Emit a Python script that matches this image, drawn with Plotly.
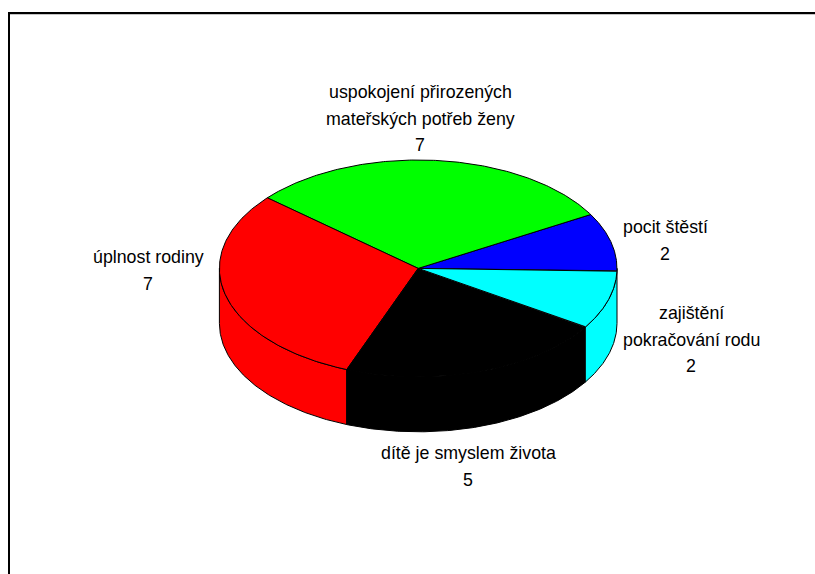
import numpy as np
import plotly.graph_objects as go

# Data, in drawing order (counter-clockwise from the east)
categories = ["pocit štěstí", "uspokojení přirozených mateřských potřeb ženy",
              "úplnost rodiny", "dítě je smyslem života", "zajištění pokračování rodu"]
values = [2, 7, 7, 5, 2]
label_lines = [["pocit štěstí"],
               ["uspokojení přirozených", "mateřských potřeb ženy"],
               ["úplnost rodiny"],
               ["dítě je smyslem života"],
               ["zajištění", "pokračování rodu"]]

# Styles / layout (pixel space of the drawing)
colors = ["#0000ff", "#00ff00", "#ff0000", "#000000", "#00ffff"]
CX, CY, RX, RY, DEPTH = 418.2, 268.4, 198.8, 108.4, 55.0
START = -1.5
label_pos = [(665, 227), (420, 92), (148, 257), (468, 453), (691, 313)]
LINE_H = 26.5
FONT = dict(family="Liberation Sans, Arial, sans-serif", size=17.8, color="#000000")

vals = np.array(values, dtype=float)
edges = START + np.concatenate([[0], np.cumsum(vals)]) / vals.sum() * 360


def ell(deg, dy=0.0):
    r = np.radians(deg)
    return CX + RX * np.cos(r), CY - RY * np.sin(r) + dy


fig = go.Figure()


def poly(x, y, color):
    fig.add_trace(go.Scatter(x=np.append(x, x[0]), y=np.append(y, y[0]), mode="lines",
                             fill="toself", fillcolor=color,
                             line=dict(color="#000000", width=1),
                             hoverinfo="skip", showlegend=False))


# Side walls: the part of each slice on the front half of the ellipse
for i in range(len(vals)):
    a0, a1 = max(edges[i], 180), min(edges[i + 1], 360)
    if i == len(vals) - 1:
        a1 = 360
    if a1 <= a0:
        continue
    t = np.linspace(a0, a1, 120)
    xt, yt = ell(t)
    xb, yb = ell(t[::-1], DEPTH)
    poly(np.concatenate([xt, xb]), np.concatenate([yt, yb]), colors[i])

# Top faces
for i in range(len(vals)):
    t = np.linspace(edges[i], edges[i + 1], 160)
    xt, yt = ell(t)
    poly(np.concatenate([[CX], xt]), np.concatenate([[CY], yt]), colors[i])

# Labels: category lines, then the value
annotations = []
for lines, val, (lx, ly) in zip(label_lines, values, label_pos):
    for k, txt in enumerate(list(lines) + [str(val)]):
        annotations.append(dict(x=lx, y=ly + k * LINE_H, xref="x", yref="y", text=txt,
                                showarrow=False, font=FONT, xanchor="center", yanchor="middle"))

# Chart frame, cut off by the right and bottom picture edges
shapes = [
    dict(type="line", xref="x", yref="y", x0=9, x1=815, y0=14.5, y1=14.5, line=dict(color="#c4c4c4", width=1)),
    dict(type="line", xref="x", yref="y", x0=8, x1=815, y0=13, y1=13, line=dict(color="#000000", width=2)),
    dict(type="line", xref="x", yref="y", x0=9, x1=9, y0=12, y1=574, line=dict(color="#000000", width=2)),
]

fig.update_layout(
    width=815, height=574, autosize=False,
    margin=dict(l=0, r=0, t=0, b=0),
    paper_bgcolor="#ffffff", plot_bgcolor="#ffffff",
    xaxis=dict(range=[0, 815], visible=False, fixedrange=True),
    yaxis=dict(range=[574, 0], visible=False, fixedrange=True),
    annotations=annotations, shapes=shapes, showlegend=False,
)
fig.write_html("out.html", config=dict(displayModeBar=False),
               post_script="document.body.style.margin='0';document.body.style.overflow='hidden';")
